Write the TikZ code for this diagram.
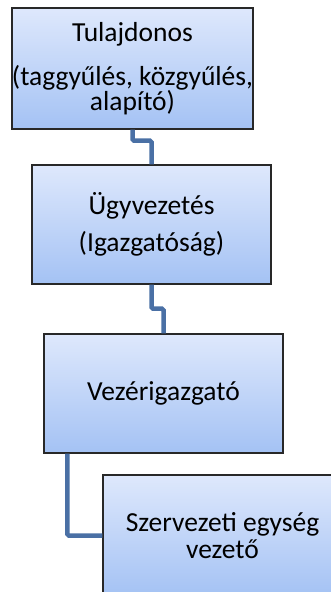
\documentclass[tikz,border=0pt]{standalone}
\usepackage{fontspec}
\setmainfont{Carlito}
\definecolor{boxtop}{RGB}{222,232,252}
\definecolor{boxbot}{RGB}{164,194,244}
\definecolor{boxline}{RGB}{40,40,40}
\definecolor{conn}{RGB}{74,112,165}
\tikzset{
  orgbox/.style={rectangle, draw=boxline, line width=1.4pt, top color=boxtop, bottom color=boxbot,
    minimum width=239pt, minimum height=120pt, align=center, inner sep=0pt,
    font=\fontsize{27.5}{25}\selectfont},
  link/.style={draw=conn, line width=4.5pt, rounded corners=1.5pt}
}
\begin{document}
\begin{tikzpicture}[x=1pt,y=-1pt]
\useasboundingbox (0,0) rectangle (331,592);
\clip (0,0) rectangle (331,592);
\node[orgbox, minimum height=121pt] (b1) at (132.5,68.5) {\rule{0pt}{18pt}Tulajdonos\\[19pt](taggyűlés, közgyűlés,\\alapító)};
\node[orgbox, minimum height=119pt] (b2) at (151.5,224.5) {Ügyvezetés\\[12pt](Igazgatóság)};
\node[orgbox, minimum height=119pt] (b3) at (163.5,393.5) {Vezérigazgató};
\node[orgbox, minimum height=121pt] (b4) at (222.5,535.5) {Szervezeti egység\\[2pt]vezető};
\draw[link] (b1.south) -- ++(0,11) -| (b2.north);
\draw[link] (b2.south) -- ++(0,24) -| (b3.north);
\draw[link] ([xshift=24pt]b3.south west) |- (b4.west);
\end{tikzpicture}
\end{document}
